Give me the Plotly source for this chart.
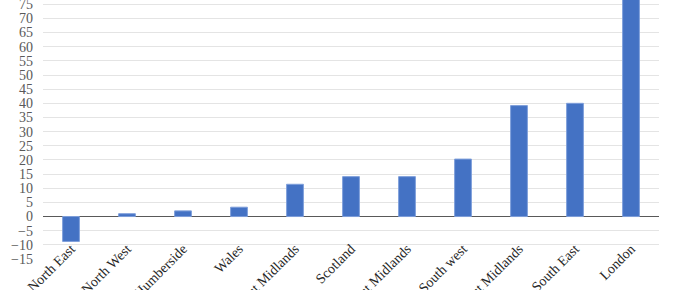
import plotly.graph_objects as go

regions = ["North East", "North West", "Yorkshire & Humberside", "Wales", "East Midlands",
           "Scotland", "West Midlands", "South west", "East Midlands", "South East", "London"]
values = [-8.8, 1.0, 2.0, 3.3, 11.4, 14.1, 14.1, 20.3, 39.2, 40.0, 80.0]
positions = list(range(len(regions)))
y_ticks = list(range(-15, 80, 5))

fig = go.Figure(go.Bar(
    x=positions, y=values,
    marker=dict(color="#4472C4", line=dict(color="#7F9FDB", width=1)),
    width=0.3,
))
fig.update_layout(
    width=680, height=290,
    margin=dict(l=43, r=21, t=0, b=31, autoexpand=False),
    plot_bgcolor="white", paper_bgcolor="white",
    showlegend=False,
    font=dict(family="Liberation Serif, DejaVu Serif, serif", size=13, color="#404040"),
)
fig.update_xaxes(
    range=[-0.5, len(regions) - 0.5], automargin=False,
    tickmode="array", tickvals=positions, ticktext=regions,
    tickangle=-45, showgrid=False, showline=False, zeroline=False,
    ticks="", ticklabelstandoff=-22, ticklabeloverflow="allow",
    tickfont=dict(size=14, color="#262626"),
)
fig.update_yaxes(
    range=[-15, 76.5], automargin=False,
    tickmode="array", tickvals=y_ticks,
    showgrid=True, gridcolor="#E4E4E4", gridwidth=1,
    zeroline=True, zerolinecolor="#595959", zerolinewidth=1,
    showline=False, ticks="", ticklabelstandoff=9, ticklabeloverflow="allow",
    tickfont=dict(size=14, color="#595959"),
)
fig.write_html("out.html")
